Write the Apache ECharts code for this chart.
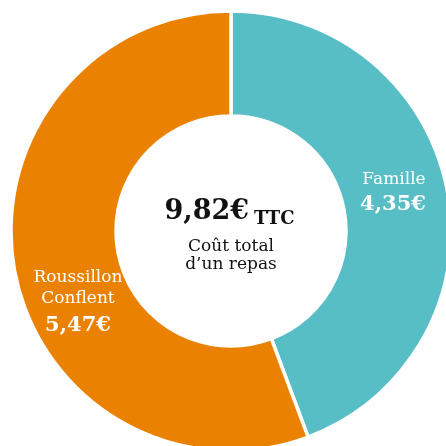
<!DOCTYPE html>
<html>
<head>
<meta charset="utf-8">
<script src="https://cdn.jsdelivr.net/npm/echarts@6/dist/echarts.min.js"></script>
<style>
  html, body { margin: 0; padding: 0; background: #ffffff; }
  #chart { width: 446px; height: 446px; }
</style>
</head>
<body>
<div id="chart"></div>
<script>
// Cost split of one meal (euros, tax included)
const categories = ['Famille', 'Roussillon Conflent'];
const values = [4.35, 5.47];
const colors = ['#57BEC6', '#EB8100'];
const totalLabel = 'TTC';
const subtitleLines = ['Coût total', 'd’un repas'];

const fmt = v => v.toFixed(2).replace('.', ',') + '€';
const total = values.reduce((a, b) => a + b, 0);
const serif = '"DejaVu Serif", "Liberation Serif", serif';

const chart = echarts.init(document.getElementById('chart'), null, { renderer: 'canvas' });

const cx = 231, cy = 231;

function txt(x, y, text, font, fill, align) {
  return { type: 'text', x: x, y: y, z: 100, silent: true, style: {
    text: text, fill: fill, font: font + ' ' + serif,
    textAlign: align || 'center', textVerticalAlign: 'middle' } };
}

chart.setOption({
  animation: false,
  series: [{
    type: 'pie',
    z: 1,
    center: [cx, cy],
    radius: [115, 220],
    startAngle: 90,
    clockwise: true,
    silent: true,
    label: { show: false },
    labelLine: { show: false },
    itemStyle: { borderColor: '#ffffff', borderWidth: 3.5 },
    data: categories.map((c, i) => ({ name: c, value: values[i], itemStyle: { color: colors[i] } }))
  }],
  graphic: [
    // centre: total cost
    txt(249, 212, fmt(total), 'bold 27px', '#111111', 'right'),
    txt(254, 219, totalLabel, 'bold 18px', '#111111', 'left'),
    txt(cx, 247, subtitleLines[0], '17px', '#111111'),
    txt(cx, 265, subtitleLines[1], '17px', '#111111'),
    // slice labels
    txt(394, 180, categories[0], '17px', '#ffffff'),
    txt(393, 205, fmt(values[0]), 'bold 21px', '#ffffff'),
    txt(78, 278, categories[1].split(' ')[0], '17px', '#ffffff'),
    txt(78, 299, categories[1].split(' ')[1], '17px', '#ffffff'),
    txt(78, 326, fmt(values[1]), 'bold 21px', '#ffffff')
  ]
});
</script>
</body>
</html>
